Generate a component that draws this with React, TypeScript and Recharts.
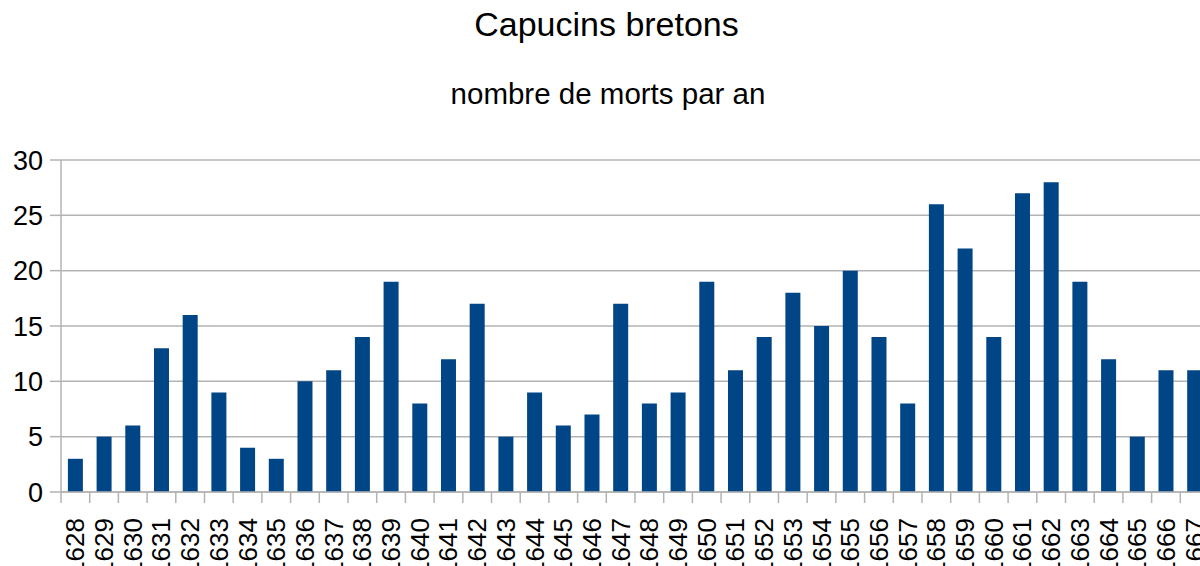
import React from 'react';
import { BarChart, Bar, XAxis, YAxis, CartesianGrid } from 'recharts';

const years = [
  '1628', '1629', '1630', '1631', '1632', '1633', '1634', '1635', '1636', '1637',
  '1638', '1639', '1640', '1641', '1642', '1643', '1644', '1645', '1646', '1647',
  '1648', '1649', '1650', '1651', '1652', '1653', '1654', '1655', '1656', '1657',
  '1658', '1659', '1660', '1661', '1662', '1663', '1664', '1665', '1666', '1667'
];
const deaths = [
  3, 5, 6, 13, 16, 9, 4, 3, 10, 11,
  14, 19, 8, 12, 17, 5, 9, 6, 7, 17,
  8, 9, 19, 11, 14, 18, 15, 20, 14, 8,
  26, 22, 14, 27, 28, 19, 12, 5, 11, 11
];
const yTicks = [0, 5, 10, 15, 20, 25, 30];

const data = years.map((year, i) => ({ year, deaths: deaths[i] }));

const FONT = '"Liberation Sans", Arial, sans-serif';
const GRID = '#b3b3b3';

// rotated year label plus a tick mark on the left edge of each category
const YearTick = (props: any) => {
  const { x, y, payload } = props;
  const half = 14.35;
  return (
    <g>
      <line x1={x - half} y1={y - 8} x2={x - half} y2={y + 3} stroke={GRID} strokeWidth={1.5} />
      <text
        x={x}
        y={y + 18}
        transform={`rotate(-90, ${x}, ${y + 18})`}
        textAnchor="end"
        dominantBaseline="central"
        fontSize={26}
        fontFamily={FONT}
        fill="#000"
      >
        {payload.value}
      </text>
    </g>
  );
};

const App: React.FC = () => {
  return (
    <div style={{ position: 'absolute', left: 0, top: 0, width: 1200, height: 566, overflow: 'hidden', background: '#fff' }}>
      <div style={{ position: 'absolute', left: 0, width: 1213, top: 5, textAlign: 'center', fontFamily: FONT, fontSize: 34, color: '#000' }}>
        Capucins bretons
      </div>
      <div style={{ position: 'absolute', left: 0, width: 1216, top: 77, textAlign: 'center', fontFamily: FONT, fontSize: 29.5, color: '#000' }}>
        nombre de morts par an
      </div>
      <div style={{ position: 'absolute', left: 0, top: 0 }}>
        <BarChart
          width={1212}
          height={566}
          data={data}
          margin={{ top: 160, right: 3, left: 0, bottom: 0 }}
          barCategoryGap="24%"
        >
          <CartesianGrid vertical={false} stroke={GRID} strokeWidth={1.5} />
          <XAxis
            dataKey="year"
            interval={0}
            height={74}
            stroke={GRID}
            strokeWidth={1.5}
            tickLine={false}
            tick={<YearTick />}
          />
          <YAxis
            width={61}
            domain={[0, 30]}
            ticks={yTicks}
            interval={0}
            stroke={GRID}
            strokeWidth={1.5}
            tickSize={11}
            tickMargin={7}
            tick={{ fill: '#000', fontSize: 27, fontFamily: FONT }}
          />
          <Bar dataKey="deaths" fill="#004586" isAnimationActive={false} />
        </BarChart>
      </div>
    </div>
  );
};

export default App;
